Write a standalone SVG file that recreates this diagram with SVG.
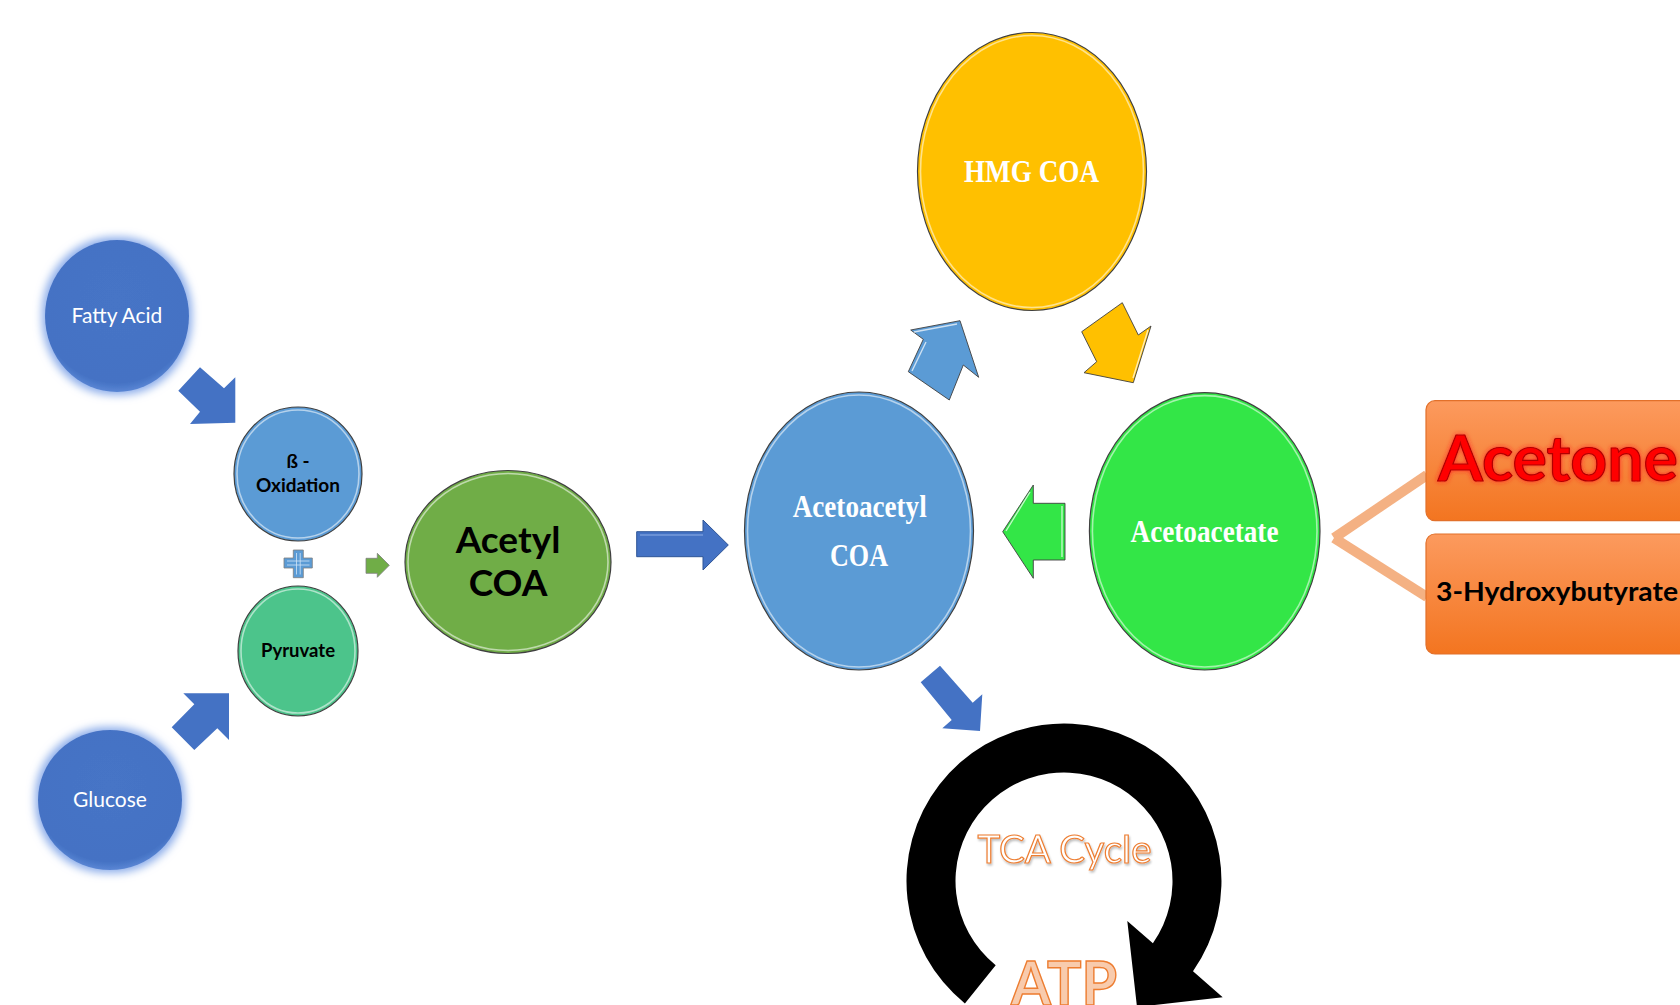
<svg xmlns="http://www.w3.org/2000/svg" width="1680" height="1005" viewBox="0 0 1680 1005">
<defs>
  <filter id="glow" x="-30%" y="-30%" width="160%" height="160%">
    <feMorphology operator="dilate" radius="3" in="SourceAlpha" result="d"/>
    <feGaussianBlur in="d" stdDeviation="4" result="b"/>
    <feFlood flood-color="#8cadea"/>
    <feComposite in2="b" operator="in" result="g"/>
    <feMerge><feMergeNode in="g"/><feMergeNode in="SourceGraphic"/></feMerge>
  </filter>
  <filter id="redglow" x="-10%" y="-30%" width="120%" height="160%">
    <feGaussianBlur in="SourceAlpha" stdDeviation="2.5" result="b"/>
    <feFlood flood-color="#ff2020" flood-opacity="0.9"/>
    <feComposite in2="b" operator="in" result="g"/>
    <feMerge><feMergeNode in="g"/><feMergeNode in="SourceGraphic"/></feMerge>
  </filter>
  <filter id="shadow" x="-10%" y="-30%" width="120%" height="160%">
    <feOffset in="SourceAlpha" dx="1" dy="1.5" result="o"/>
    <feGaussianBlur in="o" stdDeviation="0.8" result="b"/>
    <feFlood flood-color="#000" flood-opacity="0.25"/>
    <feComposite in2="b" operator="in" result="s"/>
    <feMerge><feMergeNode in="s"/><feMergeNode in="SourceGraphic"/></feMerge>
  </filter>
  <linearGradient id="orange" x1="0" y1="0" x2="0" y2="1">
    <stop offset="0" stop-color="#fc9a5e"/>
    <stop offset="1" stop-color="#f37520"/>
  </linearGradient>
  <radialGradient id="blueball" cx="0.5" cy="0.4" r="0.6">
    <stop offset="0" stop-color="#4674c6"/>
    <stop offset="0.9" stop-color="#4472c4"/>
    <stop offset="1" stop-color="#5a86d4"/>
  </radialGradient>
  <style>
    .ring { stroke: #404040; stroke-width: 1.2; }
    .hl { fill: none; stroke: #ffffff; stroke-opacity: 0.55; stroke-width: 1.6; }
    .sans { font-family: Lato, "Liberation Sans", sans-serif; }
    .serif { font-family: "Liberation Serif", "Times New Roman", serif; font-weight: bold; fill: #ffffff; }
    .arrow { stroke: #404040; stroke-width: 0.9; }
  </style>
</defs>
<rect width="1680" height="1005" fill="#ffffff"/>

<g id="connectors">
  <polygon id="arrow-fatty" points="200,367.3 224,388.3 235.3,377.3 235.3,422.7 190,424 200,411.7 178.3,390.7" fill="#4472c4"/>
  <polygon id="arrow-glucose" points="183.3,693.3 229,693.3 229,740 217.3,728.3 194.3,750 171.7,727.3 194.3,704.3" fill="#4472c4"/>
  <g id="plus">
    <path d="M293.3,550 H303.3 V558 H312.3 V568 H303.3 V577.7 H293.3 V568 H284 V558 H293.3 Z" fill="#5b9bd5" stroke="#7f7f7f" stroke-width="0.8"/>
    <path d="M296.5,553 V574.5 M300.2,553 V574.5 M287,561 H309.5 M287,565 H309.5" stroke="#cfe3f7" stroke-width="0.8" fill="none"/>
  </g>
  <polygon id="arrow-small" points="366,558.3 377.3,558.3 377.3,553.3 389.3,565.3 377.3,577.3 377.3,573.3 366,573.3" fill="#70ad47" stroke="#7f7f7f" stroke-width="0.8"/>
  <polygon id="arrow-big" points="636.7,531.7 703,531.7 703,520 728.3,545 703,570 703,556.7 636.7,556.7" fill="#4472c4" stroke="#2f5597" stroke-width="1"/>
  <line x1="640" y1="535" x2="703" y2="535" stroke="#8eaee6" stroke-width="1"/>
  <polygon id="arrow-up" class="arrow" points="910.7,330 960,320.7 978.7,377.3 963.3,365 949.3,400 908.3,371.7 923.3,339.3" fill="#5b9bd5"/>
  <path d="M914,332 L957,324 M926,342 L912,371 M966,369 L952,397" stroke="#ffffff" stroke-opacity="0.7" stroke-width="1.4" fill="none"/>
  <polygon id="arrow-down" class="arrow" points="1081.7,331.7 1122.3,302.7 1138.3,335 1151,326 1133.3,382.7 1084,372.7 1096.7,361.7" fill="#ffc000"/>
  <path d="M1148,330 L1133,378" stroke="#ffffff" stroke-opacity="0.7" stroke-width="1.4" fill="none"/>
  <polygon id="arrow-left" class="arrow" points="1002.7,531.7 1033.3,485 1033.3,503.3 1065,503.3 1065,560 1033.3,560 1033.3,578.3" fill="#33e647"/>
  <path d="M1030,492 L1006,531 M1062,506 V557" stroke="#ffffff" stroke-opacity="0.7" stroke-width="1.4" fill="none"/>
  <polygon id="arrow-tca" points="940,665.7 972.7,702.7 982.3,694.3 980,731 942.3,728.3 951.7,720 920.7,682.3" fill="#4472c4"/>
  <line x1="1334" y1="538" x2="1427" y2="475" stroke="#f4b183" stroke-width="10"/>
  <line x1="1334" y1="538" x2="1427" y2="597" stroke="#f4b183" stroke-width="10"/>
</g>

<g id="node-fatty-acid">
  <ellipse cx="117" cy="316" rx="72" ry="76" fill="url(#blueball)" filter="url(#glow)"/>
  <text x="117" y="323" class="sans" font-size="21" fill="#ffffff" text-anchor="middle">Fatty Acid</text>
</g>
<g id="node-glucose">
  <ellipse cx="110" cy="800" rx="72" ry="70" fill="url(#blueball)" filter="url(#glow)"/>
  <text x="110" y="807" class="sans" font-size="21" fill="#ffffff" text-anchor="middle">Glucose</text>
</g>
<g id="node-beta-oxidation">
  <ellipse cx="298" cy="474" rx="64" ry="67" fill="#5b9bd5" class="ring"/>
  <ellipse cx="298" cy="474" rx="61" ry="64" class="hl"/>
  <text class="sans" font-size="19" font-weight="bold" fill="#000000" text-anchor="middle"><tspan x="298" y="468">ß -</tspan><tspan x="298" y="492">Oxidation</tspan></text>
</g>
<g id="node-pyruvate">
  <ellipse cx="298" cy="651" rx="60" ry="65" fill="#4cc48b" class="ring"/>
  <ellipse cx="298" cy="651" rx="57" ry="62" class="hl"/>
  <text x="298" y="657" class="sans" font-size="18.5" font-weight="bold" fill="#000000" text-anchor="middle">Pyruvate</text>
</g>
<g id="node-acetyl-coa">
  <ellipse cx="508" cy="562" rx="103" ry="91.5" fill="#70ad47" class="ring"/>
  <ellipse cx="508" cy="562" rx="100" ry="88.5" class="hl"/>
  <text class="sans" font-size="37" font-weight="bold" fill="#000000" text-anchor="middle"><tspan x="508" y="553">Acetyl</tspan><tspan x="508" y="596">COA</tspan></text>
</g>
<g id="node-acetoacetyl-coa">
  <ellipse cx="859" cy="531" rx="114.5" ry="139" fill="#5b9bd5" class="ring"/>
  <ellipse cx="859" cy="531" rx="111.5" ry="136" class="hl"/>
  <text x="859.7" y="517" class="serif" font-size="32" text-anchor="middle" textLength="134" lengthAdjust="spacingAndGlyphs">Acetoacetyl</text>
  <text x="859" y="566" class="serif" font-size="32" text-anchor="middle" textLength="58" lengthAdjust="spacingAndGlyphs">COA</text>
</g>
<g id="node-hmg-coa">
  <ellipse cx="1032" cy="171.5" rx="114.5" ry="139" fill="#ffc000" class="ring"/>
  <ellipse cx="1032" cy="171.5" rx="111.5" ry="136" class="hl"/>
  <text x="1031.5" y="182" class="serif" font-size="32" text-anchor="middle" textLength="135" lengthAdjust="spacingAndGlyphs">HMG COA</text>
</g>
<g id="node-acetoacetate">
  <ellipse cx="1204.7" cy="531.3" rx="115.3" ry="138.7" fill="#33e647" class="ring"/>
  <ellipse cx="1204.7" cy="531.3" rx="112.3" ry="135.7" class="hl"/>
  <text x="1204.5" y="542" class="serif" font-size="32" text-anchor="middle" textLength="148" lengthAdjust="spacingAndGlyphs">Acetoacetate</text>
</g>
<g id="node-acetone">
  <rect x="1426" y="400.7" width="280" height="120" rx="9" fill="url(#orange)" stroke="#e2702a" stroke-width="1.2"/>
  <text x="1438" y="480.7" class="sans" font-size="64" font-weight="bold" fill="#ff0000" stroke="#b00000" stroke-width="1.2" filter="url(#redglow)" textLength="240" lengthAdjust="spacingAndGlyphs">Acetone</text>
</g>
<g id="node-hydroxybutyrate">
  <rect x="1426" y="534" width="280" height="120" rx="9" fill="url(#orange)" stroke="#e2702a" stroke-width="1.2"/>
  <text x="1436" y="600.7" class="sans" font-size="27" font-weight="bold" fill="#000000" textLength="242" lengthAdjust="spacingAndGlyphs">3-Hydroxybutyrate</text>
</g>
<g id="node-tca-cycle">
  <path d="M964.9,1003.4 A157.5,157.5 0 1 1 1193,971.3 L1222.7,997.3 L1137,1007 L1127.3,921 L1152.9,943.2 A108.5,108.5 0 1 0 995.7,965.3 Z" fill="#000000"/>
  <text x="1064.5" y="862.7" class="sans" font-size="38.5" fill="#ffffff" stroke="#ed7d31" stroke-width="1.2" text-anchor="middle" filter="url(#shadow)">TCA Cycle</text>
  <text x="1064" y="1005" class="sans" font-size="62" font-weight="bold" fill="#f8cbad" stroke="#ed7d31" stroke-width="1.5" text-anchor="middle" textLength="106" lengthAdjust="spacingAndGlyphs">ATP</text>
</g>
</svg>
